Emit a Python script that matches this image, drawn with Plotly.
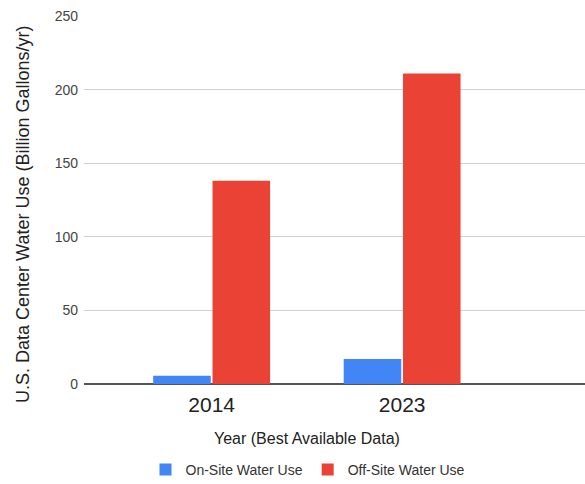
import plotly.graph_objects as go

years = ["2014", "2023"]
on_site = [5.6, 17]
off_site = [138, 211]
y_ticks = [0, 50, 100, 150, 200, 250]

W, H = 585, 484
L, R, T, B = 84, 0, 16, 100

fig = go.Figure()
fig.add_trace(go.Bar(x=years, y=on_site, name="On-Site Water Use",
                     marker=dict(color="#4285F4", line=dict(width=0))))
fig.add_trace(go.Bar(x=years, y=off_site, name="Off-Site Water Use",
                     marker=dict(color="#EA4335", line=dict(width=0))))

font_family = "Liberation Sans, Arial, sans-serif"

def px_to_paper_x(px):
    return (px - L) / (W - L - R)

def px_to_paper_y(py):
    return (H - B - py) / (H - T - B)

fig.update_layout(
    width=W, height=H,
    margin=dict(l=L, r=R, t=T, b=B, pad=0, autoexpand=False),
    paper_bgcolor="white", plot_bgcolor="white",
    barmode="group", bargap=0.377, bargroupgap=0.03,
    font=dict(family=font_family, color="#222222"),
    showlegend=True,
    legend=dict(orientation="h", x=px_to_paper_x(308), y=px_to_paper_y(470),
                xanchor="center", yanchor="middle",
                font=dict(size=14, color="#333333"),
                traceorder="normal"),
    xaxis=dict(type="category", range=[-0.67, 1.96], automargin=False,
               tickfont=dict(size=21, color="#222222"),
               showgrid=False, showline=False, ticks="", ticklen=0,
               ticklabelstandoff=6),
    yaxis=dict(range=[0, 250], tickvals=y_ticks, automargin=False,
               tickfont=dict(size=14, color="#444444"),
               gridcolor="#d0d0d0", gridwidth=1,
               zeroline=True, zerolinecolor="#555555", zerolinewidth=1.5,
               showline=False, ticks="", ticklabelstandoff=5),
    annotations=[
        dict(text="Year (Best Available Data)", xref="paper", yref="paper",
             x=px_to_paper_x(307), y=px_to_paper_y(438),
             xanchor="center", yanchor="middle", showarrow=False,
             font=dict(size=16, color="#222222")),
        dict(text="U.S. Data Center Water Use (Billion Gallons/yr)",
             xref="paper", yref="paper", textangle=-90,
             x=px_to_paper_x(23), y=px_to_paper_y(215),
             xanchor="center", yanchor="middle", showarrow=False,
             font=dict(size=18, color="#222222")),
    ],
)

fig.write_html("out.html", config={"displayModeBar": False})
with open("out.html", "r", encoding="utf-8") as f:
    html = f.read()
html = html.replace("<body>", '<body style="margin:0;padding:0">', 1)
with open("out.html", "w", encoding="utf-8") as f:
    f.write(html)
